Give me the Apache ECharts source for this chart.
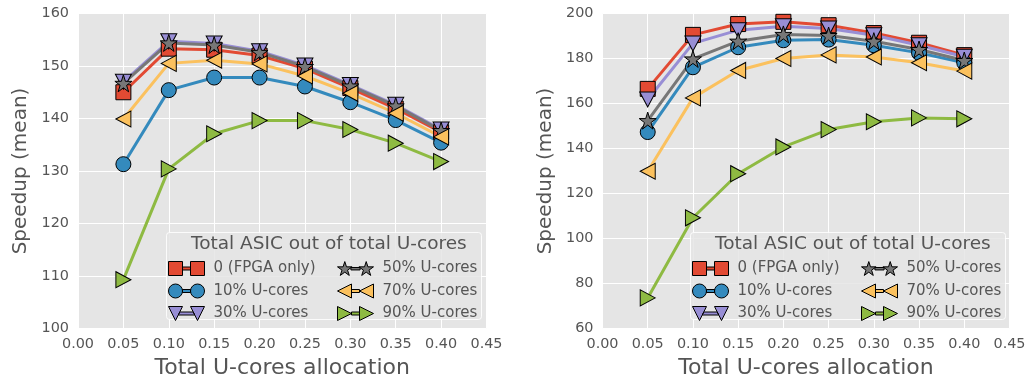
<!DOCTYPE html>
<html>
<head>
<meta charset="utf-8">
<script src="https://cdn.jsdelivr.net/npm/echarts@6/dist/echarts.min.js"></script>
<style>
html,body{margin:0;padding:0;background:#fff;}
#chart{width:1031px;height:381px;}
</style>
</head>
<body>
<div id="chart"></div>
<script>
// ---- data ----
const allocation = [0.05, 0.10, 0.15, 0.20, 0.25, 0.30, 0.35, 0.40];
const seriesNames = ['0 (FPGA only)', '10% U-cores', '30% U-cores', '50% U-cores', '70% U-cores', '90% U-cores'];
const xTicks = [0, 0.05, 0.10, 0.15, 0.20, 0.25, 0.30, 0.35, 0.40, 0.45];
const legendTitle = 'Total ASIC out of total U-cores';
const xLabel = 'Total U-cores allocation';
const yLabel = 'Speedup (mean)';

// left panel
const leftFpga = [145.0, 153.3, 153.1, 152.0, 149.5, 145.8, 141.9, 137.4];
const leftU10  = [131.3, 145.4, 147.8, 147.8, 146.1, 143.1, 139.7, 135.4];
const leftU30  = [147.0, 154.7, 154.3, 152.8, 150.1, 146.4, 142.6, 137.9];
const leftU50  = [146.7, 154.4, 154.0, 152.6, 149.9, 146.2, 142.4, 137.7];
const leftU70  = [139.9, 150.5, 151.1, 150.4, 148.1, 144.8, 141.0, 136.5];
const leftU90  = [109.3, 130.4, 137.1, 139.6, 139.6, 137.9, 135.3, 131.8];

// right panel
const rightFpga = [166.5, 190.5, 195.3, 196.3, 194.8, 191.3, 187.0, 181.5];
const rightU10  = [147.3, 176.1, 185.0, 188.1, 188.4, 185.9, 182.5, 178.1];
const rightU30  = [161.8, 186.7, 192.6, 194.3, 193.3, 190.3, 185.9, 180.8];
const rightU50  = [152.4, 179.8, 187.7, 190.7, 190.2, 187.7, 184.0, 179.1];
const rightU70  = [129.9, 162.5, 174.7, 180.0, 181.6, 180.7, 178.1, 174.4];
const rightU90  = [73.6, 109.2, 128.8, 140.7, 148.4, 151.9, 153.6, 153.2];

// ---- styles ----
const FONT = 'DejaVu Sans';
const TXT = '#555555';
const colors = ['#E24A33', '#348ABD', '#988ED5', '#777777', '#FBC15E', '#8EBA42'];
const STAR = 'path://M50,0L61.2,34.5L97.6,34.5L68.2,55.9L79.4,90.5L50,69.1L20.6,90.5L31.8,55.9L2.4,34.5L38.8,34.5Z';
const markers = [
  {symbol: 'rect', size: 15, rotate: 0},
  {symbol: 'circle', size: 15, rotate: 0},
  {symbol: 'triangle', size: [16, 15], rotate: 180},
  {symbol: STAR, size: 17, rotate: 0},
  {symbol: 'triangle', size: [16, 15], rotate: 90},
  {symbol: 'triangle', size: [16, 15], rotate: -90}
];
const legendIcons = [
  'path://M0,0H14V14H0Z M22,0H36V14H22Z M14,5.5H22V8.5H14Z',
  'path://M0,7A7,7,0,1,0,14,7A7,7,0,1,0,0,7Z M22,7A7,7,0,1,0,36,7A7,7,0,1,0,22,7Z M14,5.5H22V8.5H14Z',
  'path://M0,0H14L7,14Z M22,0H36L29,14Z M11.25,5.5L24.75,5.5L26.25,8.5L9.75,8.5Z',
  'path://M7.5,0L9.18,5.18L14.64,5.18L10.23,8.39L11.91,13.58L7.5,10.37L3.09,13.58L4.77,8.39L0.36,5.18L5.82,5.18Z M28.5,0L30.18,5.18L35.64,5.18L31.23,8.39L32.91,13.58L28.5,10.37L24.09,13.58L25.77,8.39L21.36,5.18L26.82,5.18Z M13.5,5.8H22.5V8.2H13.5Z',
  'path://M0,7L14,0V14Z M22,7L36,0V14Z M14,5.5H22V8.5H14Z',
  'path://M0,0L14,7L0,14Z M22,0L36,7L22,14Z M14,5.5H22V8.5H14Z'
];

const leftData = [leftFpga, leftU10, leftU30, leftU50, leftU70, leftU90];
const rightData = [rightFpga, rightU10, rightU30, rightU50, rightU70, rightU90];

function makeSeries(dataSets, idx) {
  return dataSets.map((vals, i) => ({
    name: seriesNames[i],
    type: 'line',
    xAxisIndex: idx,
    yAxisIndex: idx,
    data: allocation.map((x, k) => [x, vals[k]]),
    symbol: markers[i].symbol,
    symbolSize: markers[i].size,
    symbolRotate: markers[i].rotate,
    showAllSymbol: true,
    z: 2,
    lineStyle: {color: colors[i], width: 3},
    itemStyle: {color: colors[i], borderColor: '#000', borderWidth: 1},
    emphasis: {disabled: true},
    animation: false
  }));
}

function xAxis(gi) {
  return {
    type: 'value', gridIndex: gi, min: 0, max: 0.45, interval: 0.05,
    name: xLabel, nameLocation: 'middle', nameGap: 29,
    nameTextStyle: {fontFamily: FONT, fontSize: 22, color: TXT},
    axisLine: {show: false}, axisTick: {show: false},
    axisLabel: {fontFamily: FONT, fontSize: 14.4, color: TXT, margin: 9,
      formatter: v => v.toFixed(2)},
    splitLine: {show: true, lineStyle: {color: '#ffffff', width: 1}}
  };
}
function yAxis(gi, min, max, step) {
  return {
    type: 'value', gridIndex: gi, min: min, max: max, interval: step,
    name: yLabel, nameLocation: 'middle', nameGap: 47, nameRotate: 90,
    nameTextStyle: {fontFamily: FONT, fontSize: 20, color: TXT},
    axisLine: {show: false}, axisTick: {show: false},
    axisLabel: {fontFamily: FONT, fontSize: 14.4, color: TXT, margin: 9},
    splitLine: {show: true, lineStyle: {color: '#ffffff', width: 1}}
  };
}
function legendCol(names, iconIdx, left) {
  return {
    orient: 'vertical', left: left, top: 261, padding: 0,
    itemWidth: 36, itemHeight: 14, itemGap: 7.5, z: 5,
    selectedMode: false,
    data: names.map((n, k) => ({name: n, icon: legendIcons[iconIdx[k]]})),
    itemStyle: {borderColor: '#000', borderWidth: 1},
    textStyle: {fontFamily: FONT, fontSize: 15, color: TXT, padding: [0, 0, 0, 4]}
  };
}
function legendBox(left, top) {
  return {
    text: legendTitle, left: left, top: top, z: 3,
    padding: [3, 15, 66, 25],
    backgroundColor: 'rgba(229,229,229,0.85)',
    borderColor: 'rgba(255,255,255,0.85)', borderWidth: 1, borderRadius: 3,
    textStyle: {fontFamily: FONT, fontSize: 18.5, fontWeight: 'normal', color: TXT}
  };
}

const chart = echarts.init(document.getElementById('chart'), null, {renderer: 'canvas'});
chart.setOption({
  animation: false,
  backgroundColor: '#ffffff',
  grid: [
    {left: 78, top: 13.5, width: 408.5, height: 315, show: true, backgroundColor: '#E5E5E5', borderWidth: 0, containLabel: false, outerBoundsMode: 'none'},
    {left: 602.5, top: 13.5, width: 407, height: 315, show: true, backgroundColor: '#E5E5E5', borderWidth: 0, containLabel: false, outerBoundsMode: 'none'}
  ],
  title: [legendBox(166, 232), legendBox(690, 232)],
  legend: [
    legendCol(seriesNames.slice(0, 3), [0, 1, 2], 168),
    legendCol(seriesNames.slice(3), [3, 4, 5], 337),
    legendCol(seriesNames.slice(0, 3), [0, 1, 2], 692),
    legendCol(seriesNames.slice(3), [3, 4, 5], 861)
  ],
  xAxis: [xAxis(0), xAxis(1)],
  yAxis: [yAxis(0, 100, 160, 10), yAxis(1, 60, 200, 20)],
  series: makeSeries(leftData, 0).concat(makeSeries(rightData, 1))
});
</script>
</body>
</html>
